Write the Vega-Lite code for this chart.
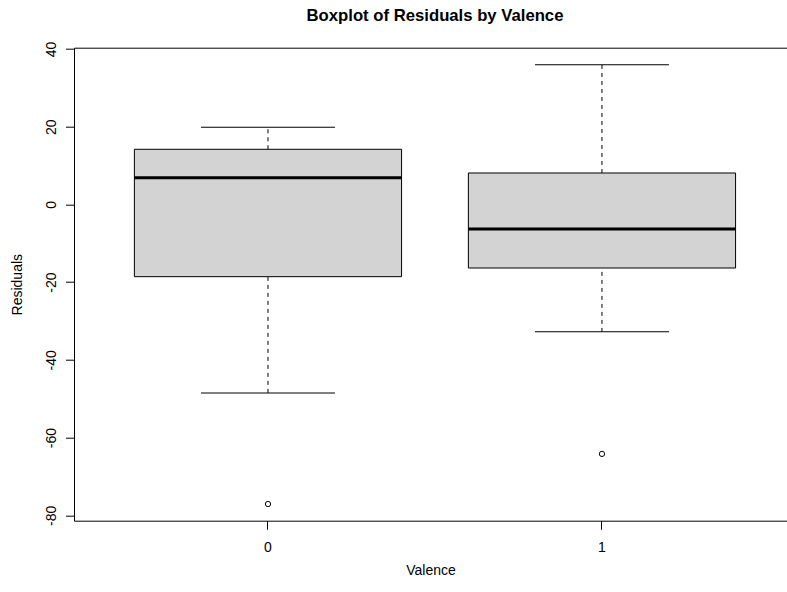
{
  "$schema": "https://vega.github.io/schema/vega-lite/v6.json",
  "autosize": "none",
  "width": 713,
  "height": 473,
  "padding": {"left": 74, "top": 47.7, "right": 0, "bottom": 71.3},
  "background": "white",
  "title": {"text": "Boxplot of Residuals by Valence", "fontSize": 16.7, "font": "Liberation Sans", "fontWeight": "bold", "anchor": "middle", "dx": 4.5, "offset": 3, "baseline": "alphabetic", "color": "black"},
  "config": {
    "view": {"stroke": null},
    "font": "Liberation Sans",
    "axis": {"labelFont": "Liberation Sans", "titleFont": "Liberation Sans", "labelFontSize": 14, "titleFontSize": 14, "titleFontWeight": "normal", "labelColor": "black", "titleColor": "black", "domainColor": "black", "tickColor": "black", "grid": false, "tickSize": 8.5}
  },
  "datasets": {
    "stats": [
      {"Valence": "0", "lower": -48.5, "q1": -18.6, "median": 6.87, "q3": 14.18, "upper": 19.84},
      {"Valence": "1", "lower": -32.8, "q1": -16.37, "median": -6.33, "q3": 8.08, "upper": 35.95}
    ],
    "outliers": [
      {"Valence": "0", "Residuals": -77.1},
      {"Valence": "1", "Residuals": -64.2}
    ]
  },
  "resolve": {"axis": {"x": "independent"}},
  "layer": [
    {
      "data": {"name": "stats"},
      "mark": {"type": "rule", "color": "black", "strokeWidth": 1, "strokeDash": [4, 4]},
      "encoding": {
        "x": {"field": "Valence", "type": "nominal", "scale": {"type": "band", "paddingInner": 0.2, "paddingOuter": 0.1674, "align": 0.54}, "axis": {"orient": "bottom", "labelAngle": 0, "title": "Valence", "labelPadding": 11, "titlePadding": 9, "domain": true}},
        "y": {"field": "q3", "type": "quantitative", "title": "Residuals", "scale": {"domain": [-81.39, 40.32], "nice": false, "zero": false}, "axis": {"values": [-80, -60, -40, -20, 0, 20, 40], "labelExpr": "'' + datum.value", "labelAngle": 270, "labelAlign": "center", "labelBaseline": "alphabetic", "labelPadding": 10.5, "titlePadding": 20, "title": "Residuals"}},
        "y2": {"field": "upper"}
      }
    },
    {
      "data": {"name": "stats"},
      "mark": {"type": "rule", "color": "black", "strokeWidth": 1, "strokeDash": [4, 4]},
      "encoding": {
        "x": {"field": "Valence", "type": "nominal", "axis": null},
        "y": {"field": "lower", "type": "quantitative", "title": "Residuals", "scale": {"domain": [-81.39, 40.32], "nice": false, "zero": false}},
        "y2": {"field": "q1"}
      }
    },
    {
      "data": {"name": "stats"},
      "mark": {"type": "tick", "color": "black", "opacity": 1, "size": 134, "thickness": 1},
      "encoding": {
        "x": {"field": "Valence", "type": "nominal", "axis": null},
        "y": {"field": "upper", "type": "quantitative", "title": "Residuals", "scale": {"domain": [-81.39, 40.32], "nice": false, "zero": false}}
      }
    },
    {
      "data": {"name": "stats"},
      "mark": {"type": "tick", "color": "black", "opacity": 1, "size": 134, "thickness": 1},
      "encoding": {
        "x": {"field": "Valence", "type": "nominal", "axis": null},
        "y": {"field": "lower", "type": "quantitative", "title": "Residuals", "scale": {"domain": [-81.39, 40.32], "nice": false, "zero": false}}
      }
    },
    {
      "data": {"name": "stats"},
      "mark": {"type": "bar", "fill": "#d3d3d3", "stroke": "black", "strokeWidth": 1, "opacity": 1},
      "encoding": {
        "x": {"field": "Valence", "type": "nominal", "axis": null},
        "y": {"field": "q1", "type": "quantitative", "title": "Residuals", "scale": {"domain": [-81.39, 40.32], "nice": false, "zero": false}},
        "y2": {"field": "q3"}
      }
    },
    {
      "data": {"name": "stats"},
      "mark": {"type": "tick", "color": "black", "opacity": 1, "size": 267.2, "thickness": 3},
      "encoding": {
        "x": {"field": "Valence", "type": "nominal", "axis": {"orient": "top", "labels": false, "ticks": false, "title": null, "domain": true}},
        "y": {"field": "median", "type": "quantitative", "title": "Residuals", "scale": {"domain": [-81.39, 40.32], "nice": false, "zero": false}}
      }
    },
    {
      "data": {"name": "outliers"},
      "mark": {"type": "point", "shape": "circle", "filled": false, "size": 28, "stroke": "black", "strokeWidth": 1, "opacity": 1},
      "encoding": {
        "x": {"field": "Valence", "type": "nominal", "axis": null},
        "y": {"field": "Residuals", "type": "quantitative", "title": "Residuals", "scale": {"domain": [-81.39, 40.32], "nice": false, "zero": false}}
      }
    }
  ]
}
